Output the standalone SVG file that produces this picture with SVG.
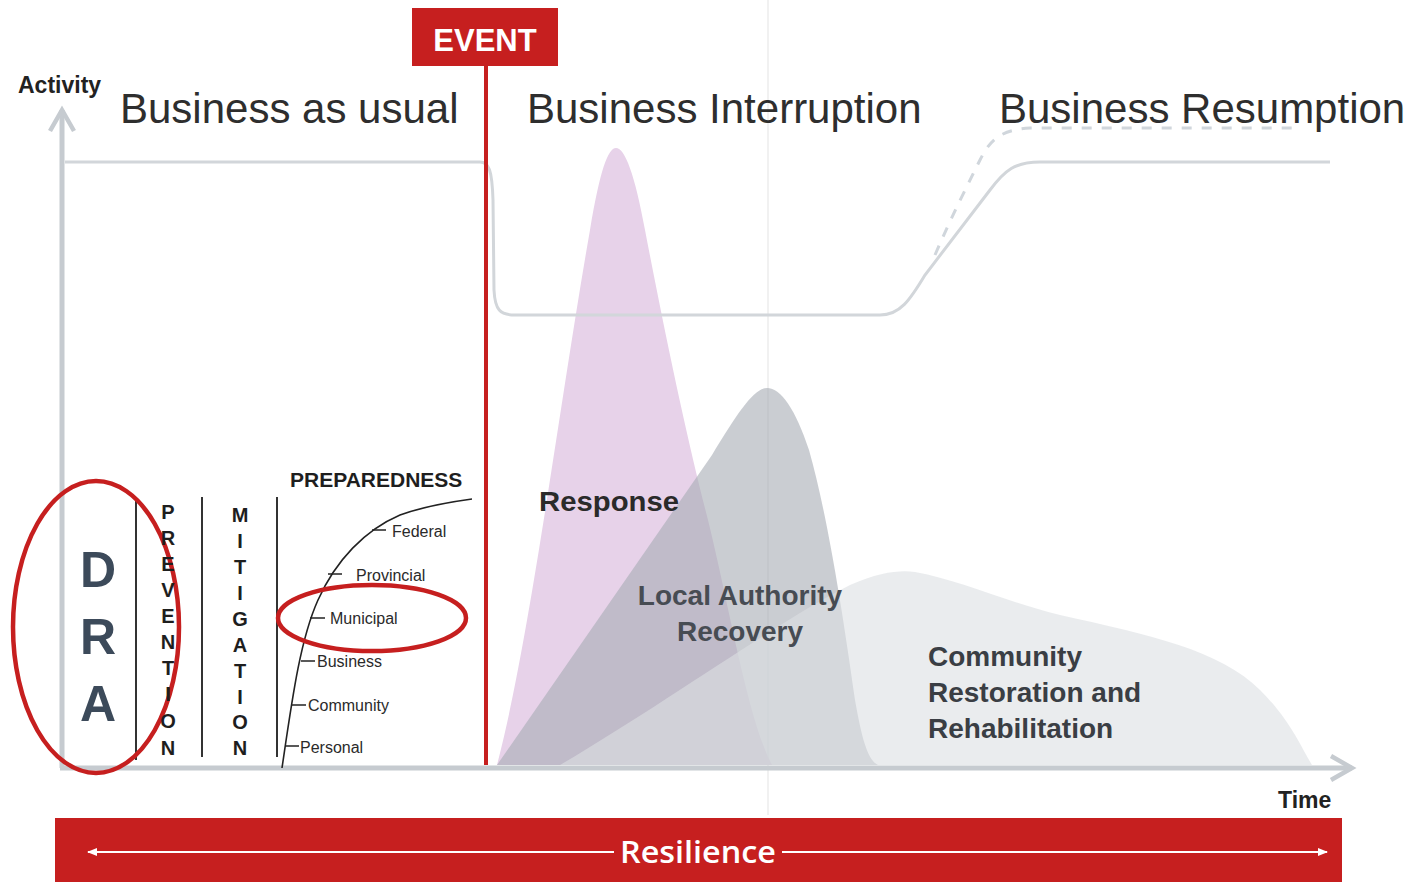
<svg xmlns="http://www.w3.org/2000/svg" width="1416" height="882" viewBox="0 0 1416 882">
<defs>
<style>
.sans{font-family:"Liberation Sans",Arial,sans-serif}
.title{font-size:42px;fill:#2e2e2e}
.bold{font-weight:bold}
.axislab{font-size:23px;font-weight:bold;fill:#222}
.letter{font-size:20px;font-weight:bold;fill:#1e1e1e}
.dra{font-size:50px;font-weight:bold;fill:#3c4a5a}
.tier{font-size:16px;fill:#2a2a2a}
.phase{font-size:28px;font-weight:bold}
.axis{stroke:#c6cbd0;stroke-width:5;fill:none}
.ring{fill:none;stroke:#c61f1f;stroke-width:4.5}
.col{stroke:#333;stroke-width:2}
.tick{stroke:#222;stroke-width:1.5}
</style>
<marker id="chev" viewBox="0 0 20 20" refX="16" refY="10" markerWidth="6" markerHeight="6" markerUnits="strokeWidth" orient="auto">
<path d="M2,2 L16,10 L2,18" fill="none" stroke="#c6cbd0" stroke-width="3"/>
</marker>
<marker id="wtip" viewBox="0 0 10 10" refX="9" refY="5" markerWidth="5" markerHeight="5" markerUnits="strokeWidth" orient="auto-start-reverse">
<path d="M0,1 L10,5 L0,9 Z" fill="#fff"/>
</marker>
</defs>
<rect width="1416" height="882" fill="#fff"/>
<line x1="768" y1="0" x2="768" y2="815" stroke="#f1f1f1" stroke-width="2"/>

<g id="areas">
<path id="response-area" d="M497,765 C530,640 560,400 590,230 C600,170 608,148 616,148 C625,148 635,175 645,230 C670,360 690,450 708,520 C730,610 748,720 772,765 Z" fill="#e7d2e9"/>
<path id="recovery-area" d="M497,765 L712,455 C738,412 754,388 767,388 C781,388 796,410 809,450 C826,510 841,600 855,700 C862,740 868,760 878,765 Z" fill="#a6acb4" fill-opacity="0.6"/>
<path id="community-area" d="M560,765 C670,700 780,620 850,585 C880,572 900,570 915,572 C960,580 1000,600 1060,615 C1150,635 1220,650 1260,690 C1290,720 1300,745 1312,765 Z" fill="#dcdfe2" fill-opacity="0.6"/>
</g>

<g id="connectors">
<path id="business-line" d="M65,162 H480 C489,162 492,170 493,200 L494,290 C495,310 500,315 515,315 H880 C900,315 910,300 925,275 L990,190 C1005,170 1015,162 1040,162 H1330" fill="none" stroke="#d2d6da" stroke-width="3"/>
<path id="resumption-dashed" d="M935,255 C950,220 965,190 980,160 C990,140 1000,130 1030,128 H1300" fill="none" stroke="#d0d6dc" stroke-width="3" stroke-dasharray="10 10"/>
<line id="y-axis" class="axis" x1="62" y1="768" x2="62" y2="110" marker-end="url(#chev)"/>
<line id="x-axis" class="axis" x1="60" y1="768" x2="1352" y2="768" marker-end="url(#chev)"/>
<line id="event-line" x1="486" y1="62" x2="486" y2="765" stroke="#c61f1f" stroke-width="4"/>
<path id="preparedness-curve" d="M282,768 C292,700 300,640 318,600 C336,560 365,530 400,515 C425,506 450,502 472,499" fill="none" stroke="#222" stroke-width="1.6"/>
<line class="col" x1="136" y1="500" x2="136" y2="760"/>
<line class="col" x1="202" y1="497" x2="202" y2="757"/>
<line class="col" x1="277" y1="497" x2="277" y2="757"/>
</g>

<g id="axis-labels" class="sans">
<text class="axislab" x="18" y="93">Activity</text>
<text class="axislab" x="1278" y="808">Time</text>
</g>

<g id="titles" class="sans title">
<text x="120" y="123">Business as usual</text>
<text x="527" y="123">Business Interruption</text>
<text x="999" y="123">Business Resumption</text>
</g>

<g id="event">
<rect x="412" y="8" width="146" height="58" fill="#c61f1f"/>
<text class="sans bold" x="485" y="51" font-size="31" fill="#fff" text-anchor="middle">EVENT</text>
</g>

<g id="dra">
<text class="sans dra" x="98" y="587" text-anchor="middle">D</text>
<text class="sans dra" x="98" y="654" text-anchor="middle">R</text>
<text class="sans dra" x="98" y="721" text-anchor="middle">A</text>
<ellipse class="ring" cx="96" cy="627" rx="83" ry="146"/>
</g>

<g id="prevention" class="sans letter" text-anchor="middle">
<text x="168" y="519">P</text><text x="168" y="545">R</text><text x="168" y="571">E</text><text x="168" y="597">V</text><text x="168" y="623">E</text><text x="168" y="649">N</text><text x="168" y="675">T</text><text x="168" y="701">I</text><text x="168" y="728">O</text><text x="168" y="755">N</text>
</g>

<g id="mitigation" class="sans letter" text-anchor="middle">
<text x="240" y="522">M</text><text x="240" y="548">I</text><text x="240" y="574">T</text><text x="240" y="600">I</text><text x="240" y="626">G</text><text x="240" y="652">A</text><text x="240" y="678">T</text><text x="240" y="704">I</text><text x="240" y="729">O</text><text x="240" y="755">N</text>
</g>

<g id="preparedness">
<text class="sans bold" x="290" y="487" font-size="21" fill="#1e1e1e">PREPAREDNESS</text>
<line class="tick" x1="372" y1="530" x2="386" y2="530"/><text class="sans tier" x="392" y="537">Federal</text>
<line class="tick" x1="328" y1="574" x2="342" y2="574"/><text class="sans tier" x="356" y="581">Provincial</text>
<line class="tick" x1="310" y1="618" x2="325" y2="618"/><text class="sans tier" x="330" y="624">Municipal</text>
<line class="tick" x1="301" y1="661" x2="315" y2="661"/><text class="sans tier" x="317" y="667">Business</text>
<line class="tick" x1="292" y1="705" x2="306" y2="705"/><text class="sans tier" x="308" y="711">Community</text>
<line class="tick" x1="285" y1="746" x2="299" y2="746"/><text class="sans tier" x="300" y="753">Personal</text>
<ellipse class="ring" cx="372" cy="618" rx="94" ry="33"/>
</g>

<g id="phases" class="sans phase">
<text x="539" y="511" fill="#2a2a2a" textLength="140" lengthAdjust="spacingAndGlyphs">Response</text>
<text x="740" y="605" fill="#474c53" text-anchor="middle">Local Authority</text>
<text x="740" y="641" fill="#474c53" text-anchor="middle">Recovery</text>
<text x="928" y="666" fill="#3a3e44">Community</text>
<text x="928" y="702" fill="#3a3e44">Restoration and</text>
<text x="928" y="738" fill="#3a3e44">Rehabilitation</text>
</g>

<g id="resilience">
<rect x="55" y="818" width="1287" height="64" fill="#c61f1f"/>
<line x1="88" y1="852" x2="614" y2="852" stroke="#fff" stroke-width="2" marker-start="url(#wtip)"/>
<line x1="782" y1="852" x2="1327" y2="852" stroke="#fff" stroke-width="2" marker-end="url(#wtip)"/>
<text x="698" y="863" font-family="'Open Sans','Liberation Sans',sans-serif" font-weight="600" font-size="30" fill="#fff" text-anchor="middle" textLength="156" lengthAdjust="spacingAndGlyphs">Resilience</text>
</g>
</svg>
